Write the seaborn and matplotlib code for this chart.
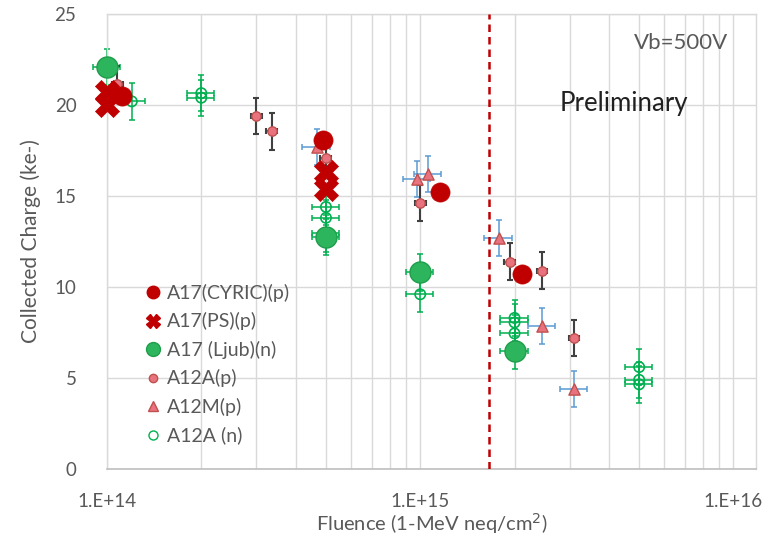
import numpy as np
import pandas as pd
import matplotlib
matplotlib.use("Agg")
import matplotlib.pyplot as plt
import matplotlib.ticker as mticker
from matplotlib.lines import Line2D
import seaborn as sns

# ----------------------------------------------------------
# DATA
# ----------------------------------------------------------
cyric_x = [1.12e14, 4.9e14, 1.16e15, 2.12e15]
cyric_y = [20.5, 18.1, 15.2, 10.7]

ps_x = [1.0e14, 1.0e14, 5.0e14, 5.0e14]
ps_y = [20.7, 20.0, 16.3, 15.4]

ljub_x = [1.0e14, 5.0e14, 1.0e15, 2.0e15]
ljub_y = [22.1, 12.75, 10.8, 6.5]

a12a_p_x = [1.08e14, 3.0e14, 3.36e14, 5.0e14, 1.0e15, 1.93e15, 2.45e15, 3.1e15]
a12a_p_y = [21.15, 19.4, 18.55, 17.1, 14.6, 11.4, 10.9, 7.2]

a12m_x = [4.67e14, 9.8e14, 1.06e15, 1.78e15, 2.45e15, 3.1e15]
a12m_y = [17.7, 15.95, 16.2, 12.7, 7.85, 4.4]

a12a_n_x = [1.2e14, 2.0e14, 2.0e14, 5.0e14, 5.0e14, 5.0e14, 1.0e15,
            2.0e15, 2.0e15, 2.0e15, 5.0e15, 5.0e15, 5.0e15]
a12a_n_y = [20.2, 20.65, 20.4, 14.4, 13.8, 12.95, 9.6,
            8.3, 8.05, 7.45, 5.6, 4.9, 4.65]

y_err = 1.0          # ke-
x_rel_err = 0.10     # relative fluence error
cut_fluence = 1.66e15

x_ticks = [1e14, 1e15, 1e16]
x_tick_labels = ["1.E+14", "1.E+15", "1.E+16"]
y_ticks = [0, 5, 10, 15, 20, 25]

RED = "#C00000"
PINK = "#E8737F"
PINK_EDGE = "#C0504D"
GREEN = "#00B050"
GREEN_FILL = "#2DB55D"
BLUE = "#5B9BD5"
DARK = "#404040"
TEXT = "#595959"
GRID = "#D9D9D9"

# ----------------------------------------------------------
# FIGURE
# ----------------------------------------------------------
sns.set_theme(style="white")
plt.rcParams["font.family"] = ["Lato", "DejaVu Sans"]

fig = plt.figure(figsize=(7.73, 5.44), dpi=100)
ax = fig.add_axes([107 / 773, 1 - 469 / 544, (756 - 107) / 773, (469 - 14) / 544])

ax.set_xscale("log")
ax.set_xlim(1e14, 1.18e16)
ax.set_ylim(0, 25)


def draw_err(x, y, xrel, color, lw=1.1):
    x = np.array(x)
    ax.errorbar(x, y, yerr=y_err, xerr=xrel * x, fmt="none", ecolor=color,
                elinewidth=lw, capsize=2, capthick=lw, zorder=2, clip_on=False)


draw_err(a12a_n_x, a12a_n_y, x_rel_err, GREEN)
draw_err(ljub_x, ljub_y, x_rel_err, GREEN)
draw_err(a12m_x, a12m_y, x_rel_err, BLUE)
draw_err(a12a_p_x, a12a_p_y, 0.04, DARK, lw=1.5)

sns.scatterplot(x=a12a_n_x, y=a12a_n_y, ax=ax, marker="o", s=55,
                facecolor="none", edgecolor=GREEN, linewidth=1.2, zorder=3)
sns.scatterplot(x=a12m_x, y=a12m_y, ax=ax, marker="^", s=65,
                color=PINK, edgecolor=PINK_EDGE, linewidth=1.0, zorder=4)
sns.scatterplot(x=a12a_p_x, y=a12a_p_y, ax=ax, marker="o", s=45,
                color=PINK, edgecolor=PINK_EDGE, linewidth=1.0, zorder=4)
sns.scatterplot(x=ljub_x, y=ljub_y, ax=ax, marker="o", s=230,
                color=GREEN_FILL, edgecolor="#1E9E4A", linewidth=1.0, zorder=5)
sns.scatterplot(x=ps_x, y=ps_y, ax=ax, marker="X", s=300,
                color=RED, edgecolor=RED, linewidth=0.5, zorder=6)
sns.scatterplot(x=cyric_x, y=cyric_y, ax=ax, marker="o", s=190,
                color=RED, edgecolor=RED, linewidth=0.5, zorder=7)
for coll in ax.collections:
    coll.set_clip_on(False)

ax.axvline(cut_fluence, color=RED, ls=(0, (3, 2)), lw=1.8, zorder=8)

# grid and axes
ax.xaxis.set_major_locator(mticker.FixedLocator(x_ticks))
ax.xaxis.set_major_formatter(mticker.FixedFormatter(x_tick_labels))
ax.xaxis.set_minor_locator(mticker.LogLocator(base=10, subs=np.arange(2, 10)))
ax.xaxis.set_minor_formatter(mticker.NullFormatter())
ax.set_yticks(y_ticks)
ax.grid(True, which="both", axis="x", color=GRID, lw=1.0, zorder=0)
ax.grid(True, which="major", axis="y", color=GRID, lw=1.0, zorder=0)
ax.set_axisbelow(True)
for side in ["top", "left", "right"]:
    ax.spines[side].set_color(GRID)
    ax.spines[side].set_linewidth(1.0)
ax.spines["bottom"].set_color("#BFBFBF")
ax.spines["bottom"].set_linewidth(1.2)
ax.tick_params(axis="both", which="both", length=0, labelsize=13.5, colors=TEXT)
ax.tick_params(axis="x", pad=17)
ax.tick_params(axis="y", pad=22)

ax.set_xlabel("Fluence (1-MeV neq/cm$^2$)", fontsize=14.5, color=TEXT, labelpad=1)
ax.set_ylabel("Collected Charge (ke-)", fontsize=15, color=TEXT, labelpad=10)

ax.text(0.957, 0.936, "Vb=500V", transform=ax.transAxes, ha="right", va="center",
        fontsize=16, color=TEXT)
ax.text(0.698, 0.804, "Preliminary", transform=ax.transAxes, ha="left", va="center",
        fontsize=18.5, color="#202020")

handles = [
    Line2D([], [], ls="none", marker="o", ms=9, color=RED),
    Line2D([], [], ls="none", marker="X", ms=10, color=RED),
    Line2D([], [], ls="none", marker="o", ms=10, color=GREEN_FILL, mec="#1E9E4A"),
    Line2D([], [], ls="none", marker="o", ms=6, color=PINK, mec=PINK_EDGE),
    Line2D([], [], ls="none", marker="^", ms=7, color=PINK, mec=PINK_EDGE),
    Line2D([], [], ls="none", marker="o", ms=6.5, mfc="none", mec=GREEN),
]
labels = ["A17(CYRIC)(p)", "A17(PS)(p)", "A17 (Ljub)(n)", "A12A(p)", "A12M(p)", "A12A (n)"]
leg = ax.legend(handles, labels, loc="upper left", bbox_to_anchor=(132 / 773, 1 - 274 / 544),
                bbox_transform=fig.transFigure, frameon=False, fontsize=14,
                labelspacing=0.54, handletextpad=0.1, handlelength=1.2, borderpad=0)
for t in leg.get_texts():
    t.set_color(TEXT)

fig.savefig("out.png", dpi=100)
plt.close(fig)
